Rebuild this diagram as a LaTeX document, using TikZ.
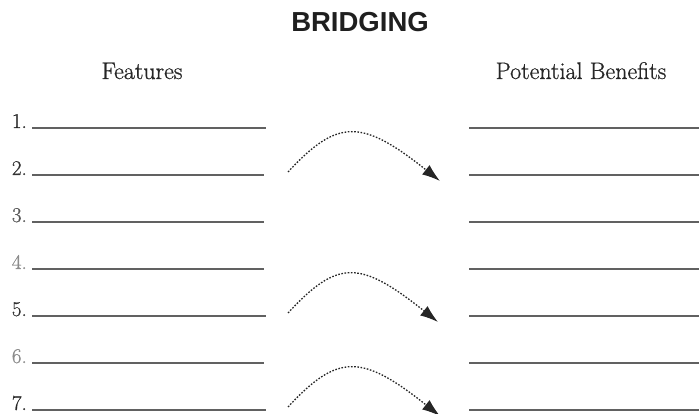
\documentclass[tikz,border=0pt]{standalone}
\usepackage{fontspec}
\newfontfamily\headfont{Liberation Sans}
\newfontfamily\bookfont[FakeBold=0.8]{Latin Modern Roman}
\usetikzlibrary{arrows.meta}

\tikzset{
  blank/.style={draw=black!62,line width=1.6pt},
  bridge/.style={dash pattern=on 1.6pt off 1.6pt,line width=1.3pt,draw=black!85,-{Latex[length=18pt,width=12pt]}},
}

\begin{document}
\begin{tikzpicture}[x=1pt,y=-1pt]
			\useasboundingbox (0,0) rectangle (699,414);
			\clip (0,0) rectangle (699,414);
			
			% headings
			\node[anchor=base,font=\headfont\bfseries\fontsize{27.5}{27.5}\selectfont,text=black!88] (title) at (360,32) {BRIDGING};
			\node[anchor=base,font=\bookfont\fontsize{24}{24}\selectfont,text=black!85] (feat) at (142,79) {Features};
			\node[anchor=base,font=\bookfont\fontsize{24}{24}\selectfont,text=black!85] (ben) at (581,79) {Potential Benefits};
			
			\begin{scope}[every node/.style={anchor=base east,inner sep=0pt,font=\bookfont\fontsize{21}{21}\selectfont}]
				\node[text=black!85] (n1) at (27,128) {1.};
				\node[text=black!80] (n2) at (27,175) {2.};
				\node[text=black!65] (n3) at (27,222) {3.};
				\node[text=black!45] (n4) at (27,269) {4.};
				\node[text=black!80] (n5) at (27,316) {5.};
				\node[text=black!45] (n6) at (27,363) {6.};
				\node[text=black!85] (n7) at (27,410) {7.};
			\end{scope}
			
			% answer lines, left
			\draw[blank] ([xshift=5pt]n1.base east) -- (266,128);
			\draw[blank] ([xshift=5pt]n2.base east) -- (264,175);
			\draw[blank] ([xshift=5pt]n3.base east) -- (264,222);
			\draw[blank] ([xshift=5pt]n4.base east) -- (264,269);
			\draw[blank] ([xshift=5pt]n5.base east) -- (266,316);
			\draw[blank] ([xshift=5pt]n6.base east) -- (264,363);
			\draw[blank] ([xshift=5pt]n7.base east) -- (266,410);
			
			% answer lines, right
			\draw[blank] (469,128) -- (700,128);
			\draw[blank] (469,175) -- (700,175);
			\draw[blank] (469,222) -- (700,222);
			\draw[blank] (469,269) -- (700,269);
			\draw[blank] (469,316) -- (700,316);
			\draw[blank] (469,363) -- (700,363);
			\draw[blank] (469,410) -- (700,410);
			
			% bridges
			\coordinate (s1) at (288,172);
			\coordinate (e1) at (440,181);
			\coordinate (s2) at (288,313);
			\coordinate (e2) at (438,322);
			\coordinate (s3) at (288,407);
			\coordinate (e3) at (440,416);
			\draw[bridge] (s1) .. controls +(50,-54) and +(-78,-62) .. (e1);
			\draw[bridge] (s2) .. controls +(50,-54) and +(-78,-62) .. (e2);
			\draw[bridge] (s3) .. controls +(50,-54) and +(-78,-62) .. (e3);
		\end{tikzpicture}
\end{document}
